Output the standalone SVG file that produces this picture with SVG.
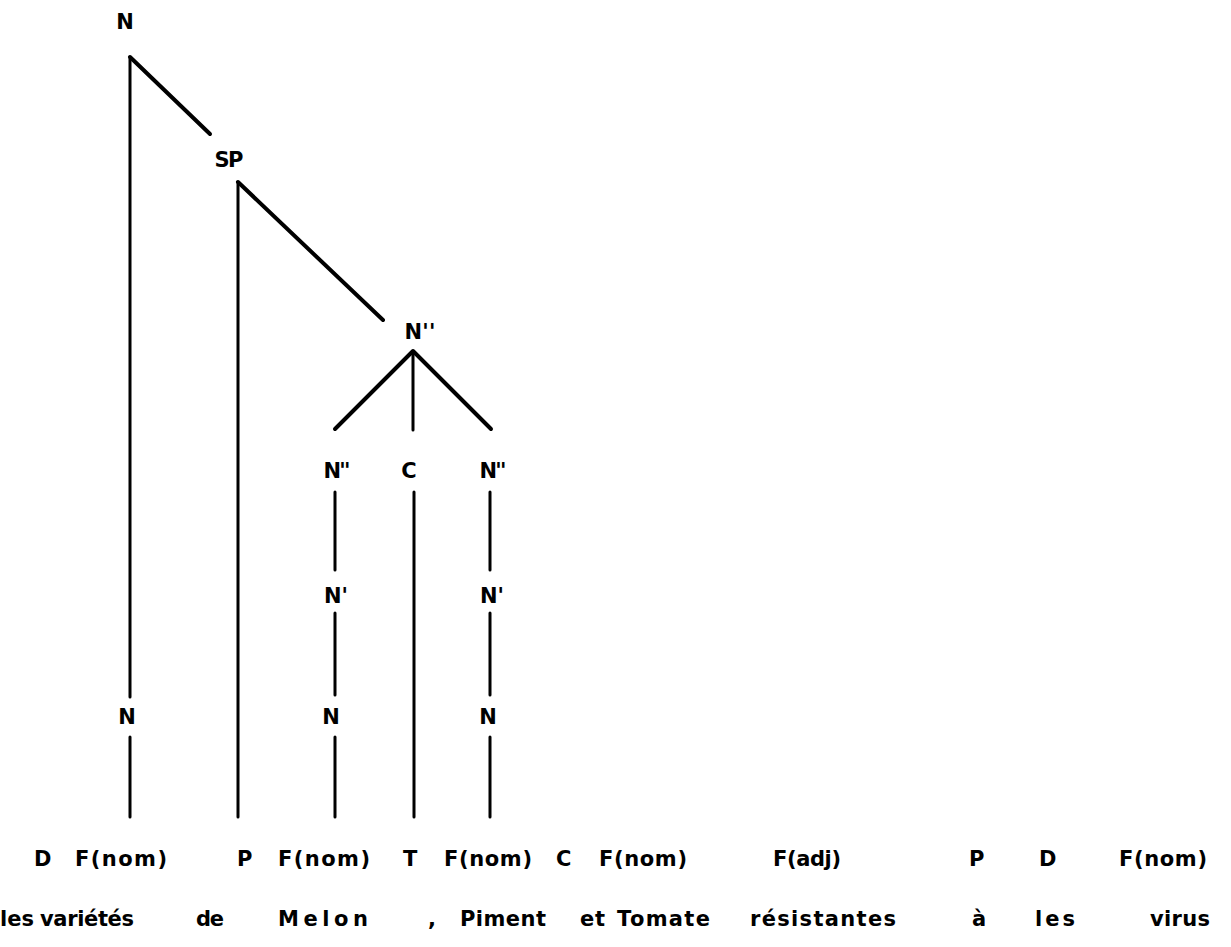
<svg xmlns="http://www.w3.org/2000/svg" width="1231" height="947" viewBox="0 0 1231 947">
<style>
.lbl{font-family:"DejaVu Sans","Liberation Sans",sans-serif;font-weight:bold;font-size:21px;fill:#000;text-anchor:middle}
.cat{font-family:"DejaVu Sans","Liberation Sans",sans-serif;font-weight:bold;font-size:21px;fill:#000}
.e{stroke:#000;stroke-width:3;stroke-linecap:round;fill:none}
.d{stroke:#000;stroke-width:4;stroke-linecap:round;fill:none}
</style>
<rect width="1231" height="947" fill="#fff"/>
<g id="connectors">
<path class="e" d="M130 57V697M130 737V817"/>
<path class="d" d="M130 57L210 134"/>
<path class="e" d="M238 182V817"/>
<path class="d" d="M238 182L383 320"/>
<path class="d" d="M413 351L335 429M413 351L491 429"/>
<path class="e" d="M413 351V430"/>
<path class="e" d="M335 492V570M335 613V695M335 737V817"/>
<path class="e" d="M414 492V817"/>
<path class="e" d="M490 492V570M490 613V695M490 737V817"/>
</g>
<g id="n-root"><text class="lbl" x="125" y="29">N</text></g>
<g id="n-sp"><text class="lbl" x="229" y="167" textLength="29" lengthAdjust="spacing">SP</text></g>
<g id="n-npp"><text class="lbl" x="420" y="339" textLength="31" lengthAdjust="spacing">N''</text></g>
<g id="n-npp-l"><text class="lbl" x="337" y="478" textLength="27" lengthAdjust="spacing">N''</text></g>
<g id="n-c"><text class="lbl" x="409" y="478">C</text></g>
<g id="n-npp-r"><text class="lbl" x="493" y="478" textLength="27" lengthAdjust="spacing">N''</text></g>
<g id="n-np-l"><text class="lbl" x="336" y="603">N'</text></g>
<g id="n-np-r"><text class="lbl" x="492" y="603">N'</text></g>
<g id="n-n-1"><text class="lbl" x="127" y="724">N</text></g>
<g id="n-n-2"><text class="lbl" x="331" y="724">N</text></g>
<g id="n-n-3"><text class="lbl" x="488" y="724">N</text></g>
<g id="categories">
<text class="cat" x="34" y="866">D</text>
<text class="cat" x="75" y="866" textLength="92" lengthAdjust="spacing">F(nom)</text>
<text class="cat" x="237" y="866">P</text>
<text class="cat" x="278" y="866" textLength="92" lengthAdjust="spacing">F(nom)</text>
<text class="cat" x="403" y="866">T</text>
<text class="cat" x="444" y="866" textLength="88" lengthAdjust="spacing">F(nom)</text>
<text class="cat" x="556" y="866">C</text>
<text class="cat" x="599" y="866" textLength="88" lengthAdjust="spacing">F(nom)</text>
<text class="cat" x="773" y="866" textLength="68" lengthAdjust="spacing">F(adj)</text>
<text class="cat" x="969" y="866">P</text>
<text class="cat" x="1039" y="866">D</text>
<text class="cat" x="1119" y="866" textLength="88" lengthAdjust="spacing">F(nom)</text>
</g>
<g id="words">
<text class="cat" x="0" y="926">les</text>
<text class="cat" x="40" y="926" textLength="94" lengthAdjust="spacing">variétés</text>
<text class="cat" x="196" y="926" textLength="28" lengthAdjust="spacing">de</text>
<text class="cat" x="278" y="926" textLength="90" lengthAdjust="spacing">Melon</text>
<text class="cat" x="428" y="926">,</text>
<text class="cat" x="460" y="926" textLength="86" lengthAdjust="spacing">Piment</text>
<text class="cat" x="580" y="926" textLength="25" lengthAdjust="spacing">et</text>
<text class="cat" x="617" y="926" textLength="93" lengthAdjust="spacing">Tomate</text>
<text class="cat" x="750" y="926" textLength="146" lengthAdjust="spacing">résistantes</text>
<text class="cat" x="972" y="926">à</text>
<text class="cat" x="1035" y="926" textLength="40" lengthAdjust="spacing">les</text>
<text class="cat" x="1150" y="926" textLength="60" lengthAdjust="spacing">virus</text>
</g>
</svg>
